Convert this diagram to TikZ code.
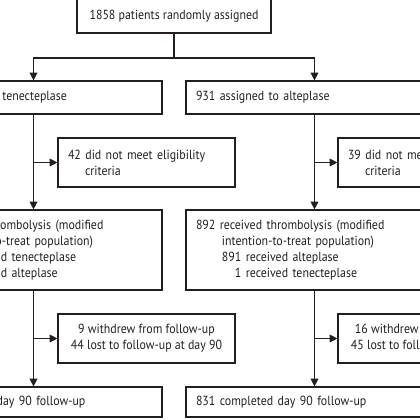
\documentclass[tikz,border=0pt]{standalone}
\usepackage{fontspec}
\setmainfont[FakeStretch=0.9]{PT Sans}
\usetikzlibrary{arrows.meta}
\begin{document}
\begin{tikzpicture}[line join=miter,
    font=\fontsize{9.4}{11.4}\selectfont,
    box/.style={draw=ink, line width=0.8pt, text=ink, inner xsep=0.25cm, inner ysep=0pt,
      align=left, text width=5.925cm, minimum width=6.425cm, minimum height=0.825cm},
    sidebox/.style={box, text width=3.925cm, minimum width=4.425cm, minimum height=1.225cm},
    centred/.style={align=center, text width={}},
    flow/.style={draw=ink, line width=0.8pt, -{Triangle[width=5.5pt,length=5.5pt]}}]
  \definecolor{ink}{RGB}{35,31,32}
  \clip[use as bounding box] (0,0) rectangle (10.5,10.5);
  % randomisation
  \node[box, centred, minimum width=4.85cm, minimum height=0.85cm]
    (rand) at (4.35,10.1) {1858 patients randomly assigned};
  \node[box] (tnk) at (0.8375,8.0625) {927 assigned to tenecteplase};
  \node[box] (alt) at (7.8625,8.0625) {931 assigned to alteplase};
  \coordinate (split) at (4.35,9.05);
  \draw[draw=ink, line width=0.8pt] (rand) -- (split);
  \draw[flow] (split) -| (tnk);
  \draw[flow] (split) -| (alt);
  % exclusions before treatment
  \node[sidebox] (exclL) at (3.6625,6.4375)
    {42 did not meet eligibility\\\hspace*{0.425cm}criteria};
  \node[sidebox] (exclR) at (10.6625,6.4375)
    {39 did not meet eligibility\\\hspace*{0.425cm}criteria};
  % modified intention-to-treat
  \node[box, minimum height=2cm] (mittL) at (0.8375,4.25)
    {885 received thrombolysis (modified\\
     \hspace*{0.65cm}intention-to-treat population)\\
     \hspace*{0.65cm}884 received tenecteplase\\
     \hspace*{0.65cm}\phantom{88}1 received alteplase};
  \node[box, minimum height=2cm] (mittR) at (7.8625,4.25)
    {892 received thrombolysis (modified\\
     \hspace*{0.65cm}intention-to-treat population)\\
     \hspace*{0.65cm}891 received alteplase\\
     \hspace*{0.65cm}\phantom{89}1 received tenecteplase};
  \draw[flow] (tnk) -- (mittL);
  \draw[flow] (alt) -- (mittR);
  \draw[flow] (tnk.south |- exclL) -- (exclL);
  \draw[flow] (alt.south |- exclR) -- (exclR);
  % follow-up
  \node[sidebox, centred] (lostL) at (3.6625,2.0375)
    {9 withdrew from follow-up\\44 lost to follow-up at day 90};
  \node[sidebox, centred] (lostR) at (10.6625,2.0375)
    {16 withdrew from follow-up\\45 lost to follow-up at day 90};
  \node[box, minimum height=0.75cm] (compL) at (0.8375,0.45) {832 completed day 90 follow-up};
  \node[box, minimum height=0.75cm] (compR) at (7.8625,0.45) {831 completed day 90 follow-up};
  \draw[flow] (mittL) -- (compL);
  \draw[flow] (mittR) -- (compR);
  \draw[flow] (mittL.south |- lostL) -- (lostL);
  \draw[flow] (mittR.south |- lostR) -- (lostR);
\end{tikzpicture}
\end{document}
